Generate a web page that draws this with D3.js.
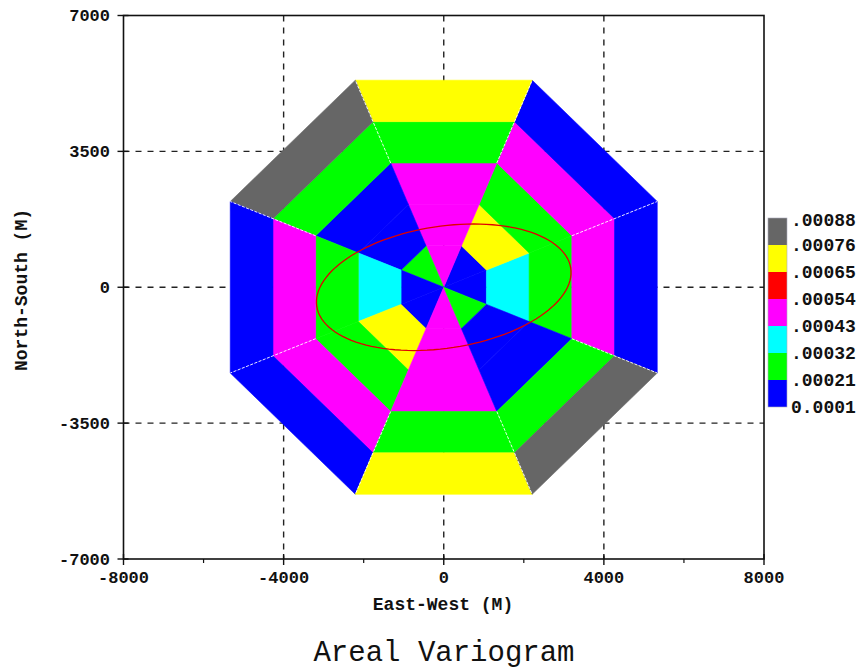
<!DOCTYPE html>
<html>
<head>
<meta charset="utf-8">
<script src="https://cdn.jsdelivr.net/npm/d3@7"></script>
<style>
  html, body { margin: 0; padding: 0; background: #fff; }
  svg { display: block; }
</style>
</head>
<body>
<svg id="chart" width="864" height="671"></svg>
<script>
// ---------------- DATA ----------------
const directions = [0, 45, 90, 135, 180, 225, 270, 315];     // sector centre, degrees (ccw from East)
const lagEdges   = [0, 1066, 2133, 3200, 4266, 5333];        // lag-bin edges (m)
// variogram value per direction, per lag bin (inner -> outer)
const valE  = [0.00018, 0.00037, 0.00029, 0.00047, 0.00019];
const valNE = [0.00015, 0.00071, 0.00026, 0.00050, 0.00017];
const valN  = [0.00046, 0.00052, 0.00048, 0.00027, 0.00069];
const valNW = [0.00025, 0.00014, 0.00019, 0.00030, 0.00083];
const valW  = [0.00018, 0.00037, 0.00029, 0.00047, 0.00019];
const valSW = [0.00015, 0.00071, 0.00026, 0.00050, 0.00017];
const valS  = [0.00046, 0.00052, 0.00048, 0.00027, 0.00069];
const valSE = [0.00025, 0.00014, 0.00019, 0.00030, 0.00083];
const sectorValues = [valE, valNE, valN, valNW, valW, valSW, valS, valSE];

const legendLabels = [".00088", ".00076", ".00065", ".00054", ".00043", ".00032", ".00021", "0.0001"];
const thresholds   = [0.00021, 0.00032, 0.00043, 0.00054, 0.00065, 0.00076];
const classColors  = ["#0000ff", "#00ff00", "#00ffff", "#ff00ff", "#ff0000", "#ffff00", "#666666"];

const xTicks = [-8000, -4000, 0, 4000, 8000];
const xMinorTicks = [-6000, -2000, 2000, 6000];
const yTicks = [-7000, -3500, 0, 3500, 7000];
const xGrid = [-4000, 0, 4000];
const yGrid = [-3500, 0, 3500];

// anisotropy ellipse: semi-major, semi-minor (m), azimuth of major axis (deg ccw from East)
const ellipseAxes = [3210, 1570];
const ellipseAngle = [9];

// ---------------- CHART ----------------
const svg = d3.select("#chart");
const x = d3.scaleLinear().domain([-8000, 8000]).range([123.5, 764]);
const y = d3.scaleLinear().domain([-7000, 7000]).range([559, 15.5]);
const color = d3.scaleThreshold().domain(thresholds).range(classColors);
const mono = "'Liberation Mono', 'Courier New', monospace";

// gridlines
svg.append("g").selectAll("line").data(xGrid).join("line")
  .attr("x1", d => x(d)).attr("x2", d => x(d))
  .attr("y1", y(7000)).attr("y2", y(-7000))
  .attr("stroke", "#222").attr("stroke-width", 1.4).attr("stroke-dasharray", "6,6");
svg.append("g").selectAll("line").data(yGrid).join("line")
  .attr("x1", x(-8000)).attr("x2", x(8000))
  .attr("y1", d => y(d)).attr("y2", d => y(d))
  .attr("stroke", "#222").attr("stroke-width", 1.4).attr("stroke-dasharray", "6,6");

// cells
const half = 22.5 * Math.PI / 180;
const cells = [];
directions.forEach((dir, i) => {
  sectorValues[i].forEach((v, k) => {
    cells.push({ dir, k, v, r0: lagEdges[k], r1: lagEdges[k + 1] });
  });
});
function pt(apothem, ang) {
  const r = apothem / Math.cos(half);
  return [x(r * Math.cos(ang)), y(r * Math.sin(ang))];
}
svg.append("g").selectAll("path").data(cells).join("path")
  .attr("d", c => {
    const t = c.dir * Math.PI / 180;
    const a = t - half, b = t + half;
    const p = [pt(c.r0, a), pt(c.r1, a), pt(c.r1, b), pt(c.r0, b)];
    return "M" + p.map(q => q.join(",")).join("L") + "Z";
  })
  .attr("fill", c => color(c.v))
  .attr("stroke", c => color(c.v))
  .attr("stroke-width", 0.6);

// faint white seams along outer sector boundaries
svg.append("g").selectAll("line").data(directions).join("line")
  .each(function (d) {
    const ang = (d + 22.5) * Math.PI / 180;
    const p0 = pt(lagEdges[3], ang), p1 = pt(lagEdges[5], ang);
    d3.select(this).attr("x1", p0[0]).attr("y1", p0[1]).attr("x2", p1[0]).attr("y2", p1[1]);
  })
  .attr("stroke", "#fff").attr("stroke-width", 1).attr("stroke-dasharray", "3,1.5").attr("opacity", 0.9);

// ellipse
const phi = ellipseAngle[0] * Math.PI / 180;
const ePts = d3.range(0, 361, 3).map(deg => {
  const t = deg * Math.PI / 180;
  const ex = ellipseAxes[0] * Math.cos(t), ey = ellipseAxes[1] * Math.sin(t);
  return [ex * Math.cos(phi) - ey * Math.sin(phi), ex * Math.sin(phi) + ey * Math.cos(phi)];
});
svg.append("path").datum(ePts)
  .attr("d", d3.line().x(d => x(d[0])).y(d => y(d[1])).curve(d3.curveLinearClosed))
  .attr("fill", "none").attr("stroke", "#e00000").attr("stroke-width", 1.3);

// frame
svg.append("rect")
  .attr("x", x(-8000)).attr("y", y(7000))
  .attr("width", x(8000) - x(-8000)).attr("height", y(-7000) - y(7000))
  .attr("fill", "none").attr("stroke", "#111").attr("stroke-width", 1.6);

// ticks
svg.append("g").selectAll("line").data(xTicks).join("line")
  .attr("x1", d => x(d)).attr("x2", d => x(d))
  .attr("y1", y(-7000) - 5).attr("y2", y(-7000) + 6)
  .attr("stroke", "#111").attr("stroke-width", 1.4);
svg.append("g").selectAll("line").data(xMinorTicks).join("line")
  .attr("x1", d => x(d)).attr("x2", d => x(d))
  .attr("y1", y(-7000)).attr("y2", y(-7000) + 4)
  .attr("stroke", "#111").attr("stroke-width", 1.2);
svg.append("g").selectAll("line").data(yTicks).join("line")
  .attr("x1", x(-8000) - 6).attr("x2", x(-8000) + 5)
  .attr("y1", d => y(d)).attr("y2", d => y(d))
  .attr("stroke", "#111").attr("stroke-width", 1.4);

// tick labels
svg.append("g").selectAll("text").data(xTicks).join("text")
  .attr("x", d => x(d)).attr("y", 583)
  .attr("text-anchor", "middle")
  .attr("font-family", mono).attr("font-weight", "bold").attr("font-size", 17)
  .attr("fill", "#111")
  .text(d => String(d));
svg.append("g").selectAll("text").data(yTicks).join("text")
  .attr("x", 110).attr("y", d => y(d) + 5.5)
  .attr("text-anchor", "end")
  .attr("font-family", mono).attr("font-weight", "bold").attr("font-size", 17)
  .attr("fill", "#111")
  .text(d => String(d));

// axis titles
svg.append("text")
  .attr("x", 443).attr("y", 610)
  .attr("text-anchor", "middle")
  .attr("font-family", mono).attr("font-weight", "bold").attr("font-size", 18)
  .attr("fill", "#111")
  .text("East-West (M)");
svg.append("text")
  .attr("transform", "translate(27,290) rotate(-90)")
  .attr("text-anchor", "middle")
  .attr("font-family", mono).attr("font-weight", "bold").attr("font-size", 18)
  .attr("fill", "#111")
  .text("North-South (M)");

// title
svg.append("text")
  .attr("x", 444).attr("y", 661)
  .attr("text-anchor", "middle")
  .attr("font-family", mono).attr("font-size", 29)
  .attr("fill", "#111")
  .text("Areal Variogram");

// legend
const legColors = classColors.slice().reverse();
const lg = svg.append("g");
lg.selectAll("rect").data(legColors).join("rect")
  .attr("x", 768).attr("y", (d, i) => 218 + i * 27)
  .attr("width", 19).attr("height", 27)
  .attr("fill", d => d);
lg.append("rect")
  .attr("x", 768).attr("y", 218).attr("width", 19).attr("height", 27 * legColors.length)
  .attr("fill", "none").attr("stroke", "#aab").attr("stroke-width", 0.6);
lg.selectAll("text").data(legendLabels).join("text")
  .attr("x", 791).attr("y", (d, i) => 218 + i * 27 + 6 + (i === 0 ? 2 : 0))
  .attr("font-family", mono).attr("font-weight", "bold").attr("font-size", 18)
  .attr("fill", "#111")
  .text(d => d);
</script>
</body>
</html>
